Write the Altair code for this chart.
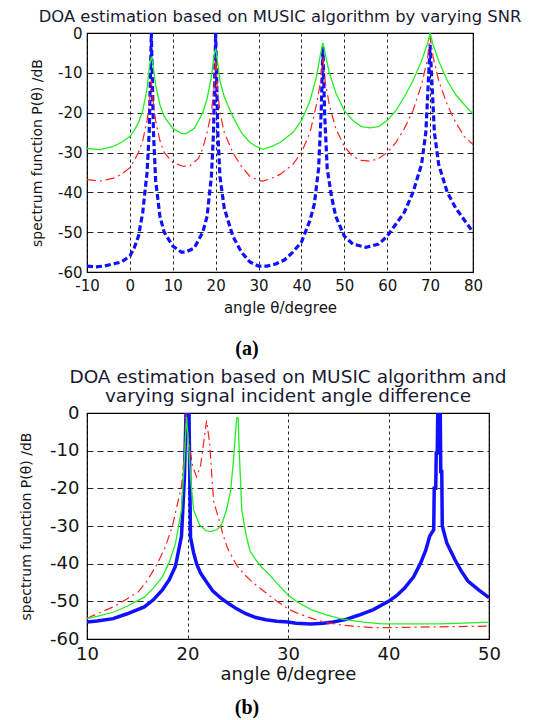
import altair as alt
import pandas as pd

# ---------- Panel (a): varying SNR ----------
a_blue_x = [-10, -8, -6, -4, -2, 0, 1, 2, 3, 4, 4.5, 4.8, 5, 5.2, 5.5, 6, 7, 8, 10, 12, 13, 15, 17, 18, 19, 19.5, 19.8, 20, 20.2, 20.5, 21, 22, 24, 26, 28, 30, 32, 34, 36, 38, 40, 42, 43, 44, 44.6, 45, 45.4, 46, 47, 48, 50, 52, 55, 58, 60, 62, 64, 66, 68, 69, 69.6, 70, 70.4, 71, 72, 74, 76, 78, 80]
a_blue_y = [-58.5, -58.7, -58.5, -58, -57.5, -56, -54, -51, -45, -35, -25, -10, 0, -10, -25, -37, -46, -50, -53.5, -55, -55, -54, -50, -46, -36, -25, -10, 0, -10, -25, -36, -44, -51, -55, -57.5, -58.5, -58.5, -58, -57, -55, -52.5, -47, -43, -34, -20, -3.5, -20, -34, -41, -46, -51, -53, -53.8, -53, -51, -48, -45, -40, -33, -25, -12, -3, -12, -25, -33, -40, -44, -47, -50]

a_green_x = [-10, -7, -4, -2, 0, 1, 2, 3, 4, 4.6, 5, 5.4, 6, 7, 8, 10, 12, 13, 15, 17, 18, 19, 19.7, 20, 20.3, 21, 22, 24, 26, 28, 30, 31, 33, 35, 38, 40, 42, 43.5, 44.5, 45, 45.5, 46.5, 48, 50, 52, 54, 56, 58, 60, 62, 64, 66, 68, 69.3, 70, 70.7, 72, 74, 76, 78, 80]
a_green_y = [-29, -29.3, -28.5, -27.5, -26, -24.5, -22.5, -19.5, -14, -8, -6, -8, -13, -18, -21, -24, -25.2, -25.3, -24, -20, -16.5, -11, -5, -4, -6, -12, -16, -21, -25, -27.5, -28.8, -29.2, -28.5, -27.5, -25, -22, -17, -11, -5, -2.5, -5, -10, -15, -19.5, -22, -23.5, -23.8, -23.5, -22, -19.5, -16, -12, -7, -3, 0, -3, -7, -12, -15.5, -18, -20.3]

a_red_x = [-10, -7, -4, -2, 0, 1, 2, 3, 4, 4.6, 5, 5.4, 6, 7, 8, 10, 12.5, 14, 16, 17, 18, 19, 19.6, 20, 20.4, 21, 22, 24, 26, 28, 30, 31, 33, 35, 38, 40, 42, 43.5, 44.5, 45, 45.5, 46.5, 48, 50, 52, 54, 56, 58, 60, 62, 64, 66, 68, 69.3, 70, 70.7, 72, 74, 76, 78, 80]
a_red_y = [-36.8, -37.2, -36.5, -35.5, -33.8, -32, -30, -27, -22, -17, -12, -17, -22, -27, -30, -32.5, -33.5, -33.3, -31.5, -29, -25, -20, -14, -6, -14, -20, -25, -30, -33.5, -36, -37, -37.2, -36.5, -35.5, -33, -30, -25, -18, -12, -6, -12, -18, -24, -28.5, -31, -32, -32.2, -31.5, -30, -27.5, -24, -19.5, -13, -7, -1, -6, -12, -18, -22.5, -26, -28]

# ---------- Panel (b): varying incident angle difference ----------
b_blue_x = [10, 11, 12.6, 14, 15.7, 16.6, 17.5, 18.2, 18.8, 19.4, 19.7, 19.85, 20.15, 20.3, 20.6, 20.9, 21.3, 21.8, 22.5, 23.4, 24.2, 24.9, 25.8, 26.8, 27.8, 28.9, 30, 30.8, 32.3, 33.5, 34.5, 35.8, 37, 38.5, 40, 40.8, 41.6, 42.5, 43.2, 43.7, 44.1, 44.5, 44.55, 44.7, 44.75, 44.85, 44.9, 45.15, 45.2, 45.3, 45.35, 45.8, 46.6, 47.2, 47.9, 49, 50]
b_blue_y = [-55.5, -55.2, -54.6, -53.3, -51.5, -49.6, -47, -44.2, -40.7, -32.7, -16.8, 0, 0, -33, -37, -40, -42.5, -44.5, -47.2, -49.3, -50.8, -52, -53.3, -54.3, -54.9, -55.3, -55.5, -55.8, -56, -55.8, -55.5, -54.8, -53.7, -52.2, -50, -48.5, -46.5, -43.5, -39.8, -36.5, -32.7, -31, -20, -20, -10.6, -10.6, 0, 0, -15.5, -15.5, -30, -34.5, -38.9, -41.8, -44.6, -47, -49]

b_green_x = [10, 11, 12.6, 14, 15.7, 16.6, 17.5, 18.2, 18.8, 19.4, 19.7, 19.9, 20.1, 20.3, 20.6, 21.2, 21.8, 22.3, 22.9, 23.4, 23.9, 24.3, 24.6, 24.8, 24.9, 25.05, 25.1, 25.4, 25.8, 26.2, 26.8, 27.4, 28, 29, 30, 31, 32.3, 33.8, 35.4, 37.5, 39.4, 42, 45, 47.5, 50]
b_green_y = [-54.6, -54, -52.9, -51.3, -48.9, -46.5, -43.5, -39.5, -34.7, -25.8, -12, -1, -8, -16.8, -25.7, -29.7, -31.2, -31.5, -31, -29.7, -25.5, -20.5, -11.7, -4.4, -1.3, -1.3, -7, -25.8, -32, -36.5, -39, -41, -42.5, -45.5, -48.3, -50.3, -52.2, -53.6, -54.7, -55.5, -56, -56, -56, -55.8, -55.5]

b_red_x = [10, 11, 12.6, 14, 15.1, 16, 17, 17.8, 18.5, 19.1, 19.4, 19.7, 19.85, 20.15, 20.5, 20.9, 21.3, 21.6, 21.9, 22.2, 22.6, 23.1, 23.5, 24, 24.9, 25.7, 26.5, 27.7, 28.9, 30, 30.8, 32, 32.9, 34, 35.4, 37, 38.5, 40, 41.6, 44, 47, 50]
b_red_y = [-54.5, -53.3, -51.5, -49.3, -47.5, -44.5, -40, -35.5, -30, -23, -19.5, -10.6, 0, -8, -14, -17, -14, -8, -2, -8, -23.5, -28, -32, -36, -40.5, -43, -45, -47.5, -50, -52, -53, -54.2, -55, -55.7, -56.3, -56.7, -57, -57, -56.9, -56.8, -56.7, -56.6]

y_ticks = [-60, -50, -40, -30, -20, -10, 0]
a_x_ticks = [-10, 0, 10, 20, 30, 40, 50, 60, 70, 80]
b_x_ticks = [10, 20, 30, 40, 50]

title_a = "DOA estimation based on MUSIC algorithm by varying SNR"
title_b = ["DOA estimation based on MUSIC algorithm and", "varying signal incident angle difference"]
x_title = "angle θ/degree"
y_title = "spectrum function P(θ) /dB"

BLUE = "#1010ff"
RED = "#ff2020"
GREEN = "#22ee22"
FONT = "DejaVu Sans"
TXT = "#141414"


def df(xs, ys):
    return pd.DataFrame({"x": xs, "y": ys})


def panel(series, xdom, xticks, w, h, lab_size, xtitle_size, xtitle_pad, ylab_pad, ytitle_pad,
          title, title_size, title_offset, line_h, caption, cap_x, cap_y):
    common = dict(grid=True, gridColor="black", gridOpacity=0.85, gridWidth=1,
                  ticks=False, domain=False, labelFlush=False, labelFont=FONT, titleFont=FONT,
                  labelColor=TXT, titleColor=TXT, titleFontWeight="normal",
                  labelExpr="'' + datum.value")
    xenc = alt.X("x:Q", scale=alt.Scale(domain=xdom, nice=False, zero=False),
                 axis=alt.Axis(values=xticks, title=x_title, labelFontSize=lab_size,
                               titleFontSize=xtitle_size, labelPadding=6, titlePadding=xtitle_pad,
                               gridDash=[3, 3], **common))
    yenc = alt.Y("y:Q", scale=alt.Scale(domain=[-60, 0], nice=False, zero=False),
                 axis=alt.Axis(values=y_ticks, title=y_title, labelFontSize=lab_size,
                               titleFontSize=14, labelPadding=ylab_pad, titlePadding=ytitle_pad,
                               gridDash=[6, 4], **common))
    layers = []
    for xs, ys, color, width, dash in series:
        kw = dict(color=color, strokeWidth=width, clip=True)
        if dash:
            kw["strokeDash"] = dash
        layers.append(alt.Chart(df(xs, ys)).mark_line(**kw).encode(x=xenc, y=yenc))
    cap = alt.Chart(pd.DataFrame({"t": [caption]})).mark_text(
        font="Liberation Serif", fontSize=20, fontWeight="bold", color="black"
    ).encode(text="t:N", x=alt.value(cap_x), y=alt.value(cap_y))
    layers.append(cap)
    return alt.layer(*layers).properties(
        width=w, height=h,
        title=alt.TitleParams(text=title, fontSize=title_size, font=FONT, fontWeight="normal",
                              color="#1a1a33", anchor="middle", offset=title_offset,
                              lineHeight=line_h),
    )


top = panel(
    [(a_blue_x, a_blue_y, BLUE, 3.2, [6, 3]),
     (a_red_x, a_red_y, RED, 1.2, [9, 4, 2, 4]),
     (a_green_x, a_green_y, GREEN, 1.3, None)],
    [-10, 80], a_x_ticks, 386, 239, 15, 15, 7, 5, 13,
    title_a, 16.4, 1, 18, "(a)", 160, 316,
)
bottom = panel(
    [(b_blue_x, b_blue_y, BLUE, 3.5, None),
     (b_red_x, b_red_y, RED, 1.2, [9, 4, 2, 4]),
     (b_green_x, b_green_y, GREEN, 1.3, None)],
    [10, 50], b_x_ticks, 402, 226, 18, 18, 2, 8, 16,
    title_b, 18.5, -1, 19, "(b)", 160, 295,
)

chart = alt.vconcat(top, bottom, spacing=6).properties(
    padding={"left": 11, "top": 0, "right": 0, "bottom": 0},
    background="white",
).configure_view(stroke="black", strokeWidth=1.2)

chart.save("out.html", embed_options={"renderer": "svg", "actions": False})
